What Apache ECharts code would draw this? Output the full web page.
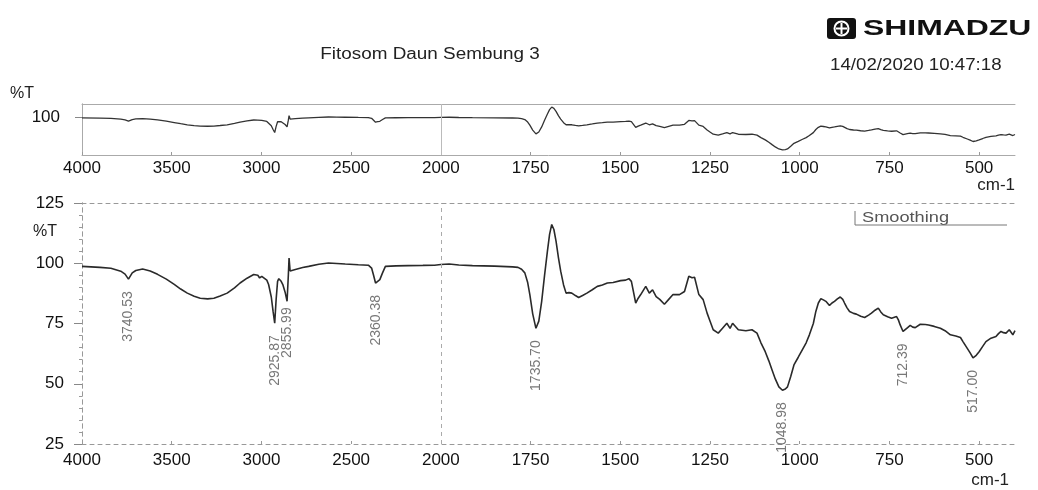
<!DOCTYPE html>
<html>
<head>
<meta charset="utf-8">
<script src="https://cdn.jsdelivr.net/npm/echarts@6/dist/echarts.min.js"></script>
<style>
  html, body { margin: 0; padding: 0; background: #fff; }
  #chart { width: 1038px; height: 490px; }
</style>
</head>
<body>
<div id="chart"></div>
<script>
// spectrum, cm-1 vs %T
const wavenumbers = [
    4000, 3900, 3839, 3784, 3760, 3741, 3720, 3700, 3662, 3620, 3579, 3530, 3486, 3450, 3413, 3375,
    3341, 3300, 3265, 3230, 3191, 3150, 3119, 3080, 3043, 3020, 3010, 2998, 2988, 2970, 2960, 2945,
    2935, 2926, 2918, 2910, 2903, 2890, 2880, 2868, 2857, 2850, 2846, 2840, 2833, 2811, 2770, 2737,
    2680, 2626, 2580, 2533, 2460, 2404, 2386, 2375, 2364, 2352, 2340, 2325, 2309, 2250, 2183, 2100,
    2035, 2000, 1977, 1950, 1912, 1850, 1800, 1785, 1775, 1766, 1758, 1752, 1744, 1735, 1727, 1719,
    1711, 1703, 1697, 1691, 1685, 1679, 1672, 1666, 1658, 1651, 1643, 1635, 1625, 1616, 1605, 1593,
    1578, 1564, 1550, 1536, 1520, 1499, 1485, 1476, 1469, 1457, 1450, 1443, 1429, 1419, 1410, 1400,
    1390, 1377, 1365, 1353, 1335, 1321, 1309, 1300, 1293, 1281, 1269, 1258, 1250, 1241, 1227, 1215,
    1203, 1194, 1187, 1171, 1150, 1133, 1119, 1108, 1096, 1086, 1077, 1068, 1058, 1048, 1040, 1034,
    1025, 1016, 1004, 992, 982, 973, 962, 955, 948, 941, 934, 927, 917, 910, 903, 895,
    887, 880, 875, 868, 861, 850, 842, 830, 819, 808, 800, 790, 781, 774, 767, 755,
    744, 730, 725, 720, 712, 700, 692, 685, 678, 664, 650, 641, 625, 608, 595, 580,
    565, 552, 545, 533, 525, 517, 508, 500, 490, 481, 467, 453, 446, 439, 432, 425,
    416, 406, 400
];
const transmittance = [
    98.7, 98.3, 97.9, 96.7, 95.5, 93.4, 96.0, 97.0, 97.6, 96.8, 95.4, 93.4, 91.2, 89.3, 87.6, 86.3,
    85.5, 85.2, 85.5, 86.4, 87.6, 89.8, 91.8, 93.8, 95.3, 95.0, 93.9, 94.6, 94.4, 93.0, 91.2, 86.0,
    80.0, 75.1, 85.0, 92.5, 93.6, 92.5, 91.0, 88.0, 84.2, 95.0, 102.2, 96.8, 96.7, 97.4, 98.2, 98.7,
    99.6, 100.1, 99.9, 99.7, 99.4, 99.2, 98.0, 95.0, 91.8, 92.5, 93.2, 96.0, 98.7, 98.9, 99.0, 99.1,
    99.2, 99.5, 99.7, 99.3, 99.0, 98.8, 98.5, 98.3, 97.5, 96.0, 92.0, 87.0, 79.0, 73.0, 76.0, 84.2,
    95.0, 105.0, 112.0, 116.1, 114.0, 109.2, 102.0, 96.7, 91.0, 87.6, 87.8, 87.6, 86.6, 85.8, 86.6, 87.6,
    89.0, 90.4, 91.0, 91.8, 92.0, 92.8, 93.0, 93.6, 92.5, 83.5, 85.5, 87.0, 90.4, 87.6, 89.0, 86.2,
    85.0, 83.0, 85.0, 87.0, 87.0, 88.3, 94.6, 94.0, 94.2, 87.0, 84.9, 79.3, 76.0, 72.4, 71.0, 73.0,
    75.1, 73.0, 75.1, 72.4, 72.0, 72.4, 71.0, 67.0, 63.3, 59.5, 55.7, 52.0, 48.7, 47.3, 47.8, 48.7,
    53.0, 57.8, 61.0, 64.3, 67.0, 70.3, 75.0, 80.0, 83.5, 85.3, 84.8, 84.2, 82.5, 83.5, 84.2, 85.2,
    86.0, 85.0, 83.5, 81.5, 80.0, 79.2, 78.9, 78.0, 77.5, 78.5, 79.3, 80.5, 81.4, 79.8, 78.6, 77.8,
    77.2, 77.9, 76.5, 74.4, 71.7, 73.2, 74.2, 73.5, 73.3, 74.7, 74.6, 74.4, 73.8, 73.0, 72.0, 70.3,
    69.8, 69.2, 67.5, 64.7, 62.8, 60.7, 61.8, 63.3, 65.5, 67.5, 68.9, 69.6, 70.8, 71.7, 71.2, 71.0,
    72.4, 70.3, 72.0
];

const peakWavenumbers = [3740.53, 2925.87, 2855.99, 2360.38, 1735.70, 1048.98, 712.39, 517.00];
const peakTransmittance = [93.4, 75.1, 84.2, 91.8, 73.0, 47.3, 71.7, 60.7];
const peakLabels = ['3740.53', '2925.87', '2855.99', '2360.38', '1735.70', '1048.98', '712.39', '517.00'];

const xTicks = [4000, 3500, 3000, 2500, 2000, 1750, 1500, 1250, 1000, 750, 500];
const yTicksMain = [25, 50, 75, 100, 125];
const yTicksOverview = [100];

// the printout changes scale at 2000 cm-1: below it one cm-1 takes twice the width
const toAxis = w => w >= 2000 ? 4000 - w : 2000 + (2000 - w) * 2;
const fromAxis = u => u <= 2000 ? 4000 - u : 2000 - (u - 2000) / 2;

const spectrum = wavenumbers.map((w, i) => [toAxis(w), transmittance[i]]);
const peaks = peakWavenumbers.map((w, i) => ({
    value: [toAxis(w), peakTransmittance[i]],
    name: peakLabels[i],
    label: i === 2 ? { offset: [6, 0] } : {}
}));

const font = "'Liberation Sans', Arial, sans-serif";
const xMin = toAxis(4000), xMax = toAxis(400);

const xLabelAxis = (gridIndex, margin, lineStyle) => ({
    type: 'value', gridIndex, min: xMin, max: xMax,
    axisLine: { show: true, lineStyle },
    axisTick: { show: true, inside: true, length: 3, customValues: xTicks.map(toAxis), lineStyle: { color: '#999' } },
    splitLine: { show: false },
    axisLabel: {
        margin, color: '#111', fontFamily: font, fontSize: 17,
        customValues: xTicks.map(toAxis),
        formatter: v => String(Math.round(fromAxis(v)))
    }
});
const frameAxis = (kind, gridIndex, min, max, lineStyle) => ({
    type: 'value', gridIndex, min, max,
    position: kind === 'x' ? 'top' : 'right',
    axisLine: { show: true, lineStyle },
    axisTick: { show: false }, axisLabel: { show: false }, splitLine: { show: false }
});

const solidFrame = { color: '#aaa', width: 1 };
const dashedFrame = { color: '#999', width: 1, type: [4, 4] };

const divider = (style) => ({
    silent: true, symbol: 'none', label: { show: false },
    lineStyle: style,
    data: [{ xAxis: toAxis(2000) }]
});

const chartOptions = {
    animation: false,
    backgroundColor: '#fff',
    grid: [
        { left: 82, right: 23, top: 104, height: 51 },
        { left: 82, right: 23, top: 203, height: 241 }
    ],
    xAxis: [
        xLabelAxis(0, 5, solidFrame),
        frameAxis('x', 0, xMin, xMax, solidFrame),
        xLabelAxis(1, 8, dashedFrame),
        frameAxis('x', 1, xMin, xMax, dashedFrame)
    ],
    yAxis: [
        {
            type: 'value', gridIndex: 0, min: 39, max: 121,
            axisLine: { show: true, lineStyle: solidFrame },
            axisTick: { show: true, length: 7, customValues: yTicksOverview, lineStyle: { color: '#888' } },
            splitLine: { show: false },
            axisLabel: { margin: 22, color: '#111', fontFamily: font, fontSize: 17, customValues: yTicksOverview }
        },
        frameAxis('y', 0, 39, 121, solidFrame),
        {
            type: 'value', gridIndex: 1, min: 25, max: 125, interval: 25,
            axisLine: { show: true, lineStyle: dashedFrame },
            axisTick: { show: true, length: 8, lineStyle: { color: '#888' } },
            minorTick: { show: true, splitNumber: 5, length: 3, lineStyle: { color: '#999' } },
            splitLine: { show: false },
            axisLabel: { margin: 18, color: '#111', fontFamily: font, fontSize: 17 }
        },
        frameAxis('y', 1, 25, 125, dashedFrame)
    ],
    series: [
        {
            name: 'overview', type: 'line', xAxisIndex: 0, yAxisIndex: 0,
            data: spectrum, showSymbol: false, smooth: false,
            lineStyle: { color: '#333', width: 1.3 },
            markLine: divider({ color: '#bbb', width: 1, type: 'solid' })
        },
        {
            name: 'Smoothing', type: 'line', xAxisIndex: 2, yAxisIndex: 2,
            data: spectrum, showSymbol: false, smooth: false,
            lineStyle: { color: '#2a2a2a', width: 1.6 },
            markLine: divider({ color: '#aaa', width: 1, type: [4, 4] })
        },
        {
            name: 'peaks', type: 'scatter', xAxisIndex: 2, yAxisIndex: 2,
            data: peaks, symbolSize: 0, silent: true,
            label: {
                show: true, position: 'bottom', distance: 12, rotate: 90,
                align: 'right', verticalAlign: 'middle',
                formatter: p => p.name,
                color: '#555', fontFamily: font, fontSize: 14
            }
        }
    ],
    graphic: [
        { type: 'text', x: 430, y: 55, scaleX: 1.18,
          style: { text: 'Fitosom Daun Sembung 3', font: `16px ${font}`, fill: '#222', align: 'center', verticalAlign: 'middle', textAlign: 'center', textVerticalAlign: 'middle' } },
        { type: 'text', x: 830, y: 65, scaleX: 1.1,
          style: { text: '14/02/2020 10:47:18', font: `17px ${font}`, fill: '#222', align: 'left', verticalAlign: 'middle', textAlign: 'left', textVerticalAlign: 'middle' } },
        { type: 'rect', shape: { x: 827, y: 18, width: 29, height: 21, r: 3 }, style: { fill: '#111' } },
        { type: 'circle', shape: { cx: 841.5, cy: 28.5, r: 7 }, style: { fill: 'none', stroke: '#fff', lineWidth: 2 } },
        { type: 'line', shape: { x1: 841.5, y1: 23, x2: 841.5, y2: 34 }, style: { stroke: '#fff', lineWidth: 2 } },
        { type: 'line', shape: { x1: 836, y1: 28.5, x2: 847, y2: 28.5 }, style: { stroke: '#fff', lineWidth: 2 } },
        { type: 'text', x: 863, y: 29, scaleX: 1.45,
          style: { text: 'SHIMADZU', font: `bold 22px ${font}`, fill: '#111', align: 'left', verticalAlign: 'middle', textAlign: 'left', textVerticalAlign: 'middle' } },
        { type: 'text', x: 10, y: 94,
          style: { text: '%T', font: `16px ${font}`, fill: '#222', align: 'left', verticalAlign: 'middle', textAlign: 'left', textVerticalAlign: 'middle' } },
        { type: 'text', x: 33, y: 232,
          style: { text: '%T', font: `16px ${font}`, fill: '#222', align: 'left', verticalAlign: 'middle', textAlign: 'left', textVerticalAlign: 'middle' } },
        { type: 'text', x: 1015, y: 185,
          style: { text: 'cm-1', font: `17px ${font}`, fill: '#222', align: 'right', verticalAlign: 'middle', textAlign: 'right', textVerticalAlign: 'middle' } },
        { type: 'text', x: 1009, y: 480,
          style: { text: 'cm-1', font: `17px ${font}`, fill: '#222', align: 'right', verticalAlign: 'middle', textAlign: 'right', textVerticalAlign: 'middle' } },
        { type: 'text', x: 862, y: 218, scaleX: 1.3,
          style: { text: 'Smoothing', font: `14px ${font}`, fill: '#555', align: 'left', verticalAlign: 'middle', textAlign: 'left', textVerticalAlign: 'middle' } },
        { type: 'polyline', shape: { points: [[855, 211], [855, 225], [1007, 225]] }, style: { stroke: '#777', lineWidth: 1, fill: 'none' } }
    ]
};

const chart = echarts.init(document.getElementById('chart'));
chart.setOption(chartOptions);
</script>
</body>
</html>
